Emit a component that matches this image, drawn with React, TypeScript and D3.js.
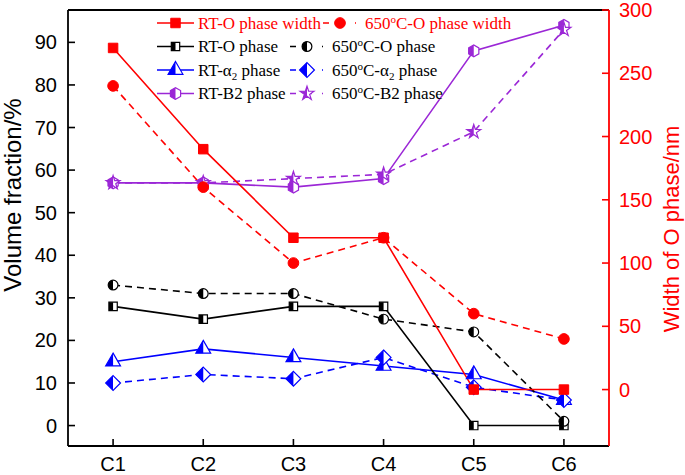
import React from "react";
import * as d3 from "d3";

const categories = ["C1", "C2", "C3", "C4", "C5", "C6"];
const rtOWidth = [270, 190, 120, 120, 0, 0];
const htOWidth = [240, 160, 100, 120, 60, 40];
const rtO = [28, 25, 28, 28, 0, 0];
const htO = [33, 31, 31, 25, 22, 1];
const rtA2 = [15, 18, 16, 14, 12, 6];
const htA2 = [10, 12, 11, 16, 9, 6];
const rtB2 = [57, 57, 56, 58, 88, 94];
const htB2 = [57, 57, 58, 59, 69, 93];
const leftTicks = [0, 10, 20, 30, 40, 50, 60, 70, 80, 90];
const rightTicks = [0, 50, 100, 150, 200, 250, 300];

const W = 685, H = 475;
const L = 68, R = 609, T = 10, B = 446;
const RED = "#FF0000", BLUE = "#0000FF", PURPLE = "#9B27D6", BLACK = "#000000";

const hexagon = {
  draw(ctx: any, size: number) {
    const r = Math.sqrt(size / (1.5 * Math.sqrt(3)));
    for (let i = 0; i < 6; i++) {
      const a = Math.PI / 2 + (i * Math.PI) / 3;
      const x = r * Math.cos(a), y = r * Math.sin(a);
      if (i === 0) ctx.moveTo(x, y); else ctx.lineTo(x, y);
    }
    ctx.closePath();
  },
};

const diamond = {
  draw(ctx: any, size: number) {
    const r = Math.sqrt(size / 2);
    ctx.moveTo(0, -r);
    ctx.lineTo(r, 0);
    ctx.lineTo(0, r);
    ctx.lineTo(-r, 0);
    ctx.closePath();
  },
};

type Series = {
  name: string; values: number[]; axis: "left" | "right"; color: string;
  dashed: boolean; shape: any; size: number; half: boolean;
};

const series: Series[] = [
  { name: "rtA2", values: rtA2, axis: "left", color: BLUE, dashed: false, shape: d3.symbolTriangle, size: 95, half: true },
  { name: "htA2", values: htA2, axis: "left", color: BLUE, dashed: true, shape: diamond, size: 110, half: true },
  { name: "rtO", values: rtO, axis: "left", color: BLACK, dashed: false, shape: d3.symbolSquare, size: 70, half: true },
  { name: "htO", values: htO, axis: "left", color: BLACK, dashed: true, shape: d3.symbolCircle, size: 75, half: true },
  { name: "rtB2", values: rtB2, axis: "left", color: PURPLE, dashed: false, shape: hexagon, size: 90, half: true },
  { name: "htB2", values: htB2, axis: "left", color: PURPLE, dashed: true, shape: d3.symbolStar, size: 60, half: true },
  { name: "rtOW", values: rtOWidth, axis: "right", color: RED, dashed: false, shape: d3.symbolSquare, size: 90, half: false },
  { name: "htOW", values: htOWidth, axis: "right", color: RED, dashed: true, shape: d3.symbolCircle, size: 90, half: false },
];

function Marker({ s, x, y }: { s: Series; x: number; y: number }) {
  const d = d3.symbol().type(s.shape).size(s.size)() as string;
  if (!s.half) {
    return <path d={d} transform={`translate(${x},${y})`} fill={s.color} stroke={s.color} strokeWidth={1} />;
  }
  return (
    <g transform={`translate(${x},${y})`}>
      <path d={d} fill="#fff" stroke="none" />
      <path d={d} fill={s.color} stroke="none" clipPath="url(#lefthalf)" />
      <path d={d} fill="none" stroke={s.color} strokeWidth={1.2} />
    </g>
  );
}

const serif = "'Liberation Serif', 'Times New Roman', serif";
const sans = "'Liberation Sans', Arial, sans-serif";

function Sup650({ rest }: { rest: React.ReactNode }) {
  return (
    <>
      650<tspan fontSize={11} dy={-6}>o</tspan><tspan dy={6}>C-</tspan>{rest}
    </>
  );
}
function Alpha2() {
  return (
    <>
      α<tspan fontSize={11} dy={4}>2</tspan><tspan dy={-4}> phase</tspan>
    </>
  );
}

export default function App() {
  const x = d3.scaleLinear().domain([0.5, 6.5]).range([L, R]);
  const yL = d3.scaleLinear().domain([-4.8, 97.6]).range([B, T]);
  const yR = d3.scaleLinear().domain([-44.6, 300]).range([B, T]);

  const legendRows = [
    { y: 23, a: series[6], at: "RT-O phase width", b: series[7], bt: <Sup650 rest="O phase width" />, red: true, bx: 323 },
    { y: 46.5, a: series[2], at: "RT-O phase", b: series[3], bt: <Sup650 rest="O phase" />, red: false, bx: 290 },
    { y: 70, a: series[0], at: <>RT-<Alpha2 /></>, b: series[1], bt: <Sup650 rest={<Alpha2 />} />, red: false, bx: 290 },
    { y: 93.5, a: series[4], at: "RT-B2 phase", b: series[5], bt: <Sup650 rest="B2 phase" />, red: false, bx: 290 },
  ];

  return (
    <svg width={W} height={H} style={{ position: "absolute", left: 0, top: 0, background: "#fff" }}>
      <defs>
        <clipPath id="lefthalf">
          <rect x={-20} y={-20} width={20} height={40} />
        </clipPath>
      </defs>
      <rect x={0} y={0} width={W} height={H} fill="#fff" />

      {series.map((s) => {
        const ys = s.axis === "left" ? yL : yR;
        const line = d3.line<number>().x((_, i) => x(i + 1)).y((v) => ys(v));
        return (
          <path key={s.name} d={line(s.values) as string} fill="none" stroke={s.color}
            strokeWidth={1.6} strokeDasharray={s.dashed ? "7,5" : undefined} />
        );
      })}
      {series.map((s) => {
        const ys = s.axis === "left" ? yL : yR;
        return (
          <g key={s.name + "m"}>
            {s.values.map((v, i) => <Marker key={i} s={s} x={x(i + 1)} y={ys(v)} />)}
          </g>
        );
      })}

      <line x1={L} y1={T} x2={R} y2={T} stroke="#000" strokeWidth={1.8} />
      <line x1={L} y1={T} x2={L} y2={B} stroke="#000" strokeWidth={1.8} />
      <line x1={L} y1={B} x2={R} y2={B} stroke="#000" strokeWidth={1.8} />
      <line x1={R} y1={T} x2={R} y2={B} stroke={RED} strokeWidth={1.8} />

      {leftTicks.map((t) => (
        <g key={"l" + t}>
          <line x1={L} x2={L + 7} y1={yL(t)} y2={yL(t)} stroke="#000" strokeWidth={1.6} />
          <text x={L - 11} y={yL(t)} dy="0.35em" textAnchor="end" fontFamily={sans} fontSize={20}>{t}</text>
        </g>
      ))}
      {rightTicks.map((t) => (
        <g key={"r" + t}>
          <line x1={R - 7} x2={R} y1={yR(t)} y2={yR(t)} stroke={RED} strokeWidth={1.6} />
          <text x={R + 10} y={yR(t)} dy="0.35em" textAnchor="start" fontFamily={sans} fontSize={20} fill={RED}>{t}</text>
        </g>
      ))}
      {categories.map((c, i) => (
        <g key={c}>
          <line x1={x(i + 1)} x2={x(i + 1)} y1={B} y2={B - 7} stroke="#000" strokeWidth={1.6} />
          <text x={x(i + 1)} y={471} textAnchor="middle" fontFamily={sans} fontSize={20}>{c}</text>
        </g>
      ))}

      <text transform="translate(21,195) rotate(-90)" textAnchor="middle" fontFamily={sans} fontSize={24}>Volume fraction/%</text>
      <text transform="translate(679,229) rotate(-90)" textAnchor="middle" fontFamily={sans} fontSize={22} fill={RED}>Width of O phase/nm</text>

      {legendRows.map((r, i) => (
        <g key={"lg" + i}>
          <line x1={157} x2={194} y1={r.y} y2={r.y} stroke={r.a.color} strokeWidth={1.6} />
          <Marker s={r.a} x={175.5} y={r.y} />
          <text x={198} y={r.y + 5.5} fontFamily={serif} fontSize={17} fill={r.red ? RED : "#000"}>{r.at}</text>
          <line x1={r.bx} x2={r.bx + 33} y1={r.y} y2={r.y} stroke={r.b.color} strokeWidth={1.6} strokeDasharray="6,10" />
          <Marker s={r.b} x={r.bx + 17} y={r.y} />
          <text x={r.bx + 42} y={r.y + 5.5} fontFamily={serif} fontSize={17} fill={r.red ? RED : "#000"}>{r.bt}</text>
        </g>
      ))}
    </svg>
  );
}
